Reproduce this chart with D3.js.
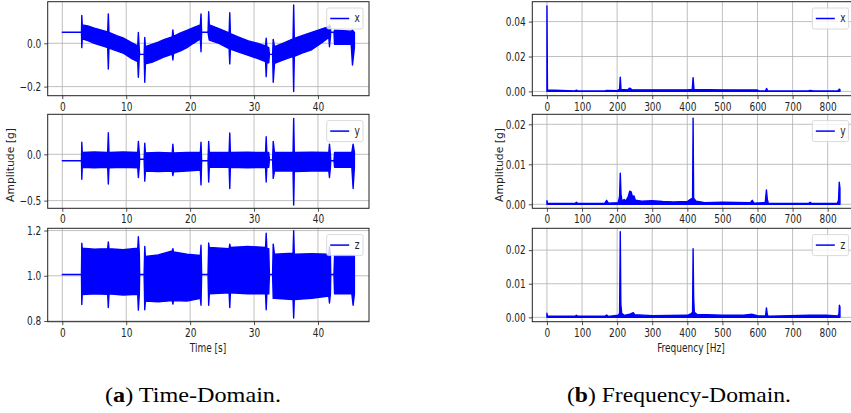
<!DOCTYPE html>
<html lang="en">
<head>
<meta charset="UTF-8">
<title>Time and frequency domain</title>
<style>
    body { margin: 0; background: #fff; }
    svg { display: block; }
    .tick text, .lab { font-family: "DejaVu Sans Condensed", "DejaVu Sans", sans-serif; font-size: 10px; fill: #222; }
    .cap { font-family: "Liberation Serif", "Times New Roman", serif; font-size: 21px; fill: #000; }
</style>
</head>
<body>
<svg width="851" height="413"></svg>
<script src="https://d3js.org/d3.v7.min.js"></script>
<script>
    // time signals: [t, low envelope, high envelope]
    const sigX = [
        [0, 0.051, 0.051], [3.0, 0.051, 0.051], [3.05, -0.02, 0.128], [3.12, 0.02, 0.085],
        [4, 0.012, 0.08], [5, 0.0, 0.07], [6, -0.01, 0.062], [7.1, -0.02, 0.052], [7.2, -0.119, 0.136], [7.3, -0.022, 0.05],
        [8.5, -0.035, 0.035], [9.5, -0.045, 0.025], [10.7, -0.068, 0.005], [11.8, -0.085, -0.012], [11.9, -0.157, 0.05], [12.05, -0.06, -0.03],
        [12.1, -0.051, -0.051], [12.8, -0.051, -0.051], [12.9, -0.18, 0.027], [13.0, -0.095, -0.016],
        [14, -0.088, -0.005], [15, -0.075, 0.005], [16, -0.062, 0.018], [17.2, -0.05, 0.03], [17.3, -0.077, 0.062], [17.4, -0.048, 0.032],
        [18.5, -0.035, 0.048], [19.5, -0.02, 0.06], [20.5, 0.0, 0.072], [21.6, 0.02, 0.085], [21.7, -0.039, 0.136],
        [21.8, 0.051, 0.051], [22.8, 0.051, 0.051], [22.9, 0.03, 0.146], [23.0, 0.015, 0.085],
        [24.5, 0.0, 0.068], [26.1, -0.025, 0.048], [26.2, -0.095, 0.141], [26.3, -0.027, 0.045],
        [27.5, -0.04, 0.03], [29, -0.055, 0.012], [30.5, -0.07, 0.0], [31.8, -0.085, -0.012], [31.9, -0.154, 0.023], [32.0, -0.09, -0.016], [32.3, -0.09, -0.02],
        [32.4, -0.051, -0.051], [32.9, -0.051, -0.051], [33.0, -0.18, 0.018], [33.2, -0.093, -0.016],
        [34.5, -0.078, 0.0], [36.1, -0.06, 0.02], [36.2, -0.223, 0.177], [36.3, -0.06, 0.022],
        [37.5, -0.045, 0.035], [39, -0.03, 0.05], [40.5, 0.0, 0.065], [41.7, 0.027, 0.077], [41.8, -0.016, 0.085], [41.95, 0.03, 0.075],
        [42.0, 0.051, 0.051], [42.5, 0.051, 0.051], [42.6, -0.005, 0.06], [44, -0.003, 0.058], [45.2, -0.005, 0.056], [45.4, -0.1, 0.06], [45.7, -0.02, 0.05]
    ];
    const sigY = [
        [0, -0.069, -0.069], [3.0, -0.069, -0.069], [3.05, -0.27, 0.13], [3.12, -0.14, 0.02],
        [5, -0.145, 0.025], [7.1, -0.14, 0.02], [7.2, -0.32, 0.233], [7.3, -0.145, 0.02],
        [9.5, -0.14, 0.025], [11.8, -0.145, 0.02], [11.9, -0.25, 0.14], [12.05, -0.13, 0.01],
        [12.1, -0.054, -0.054], [12.8, -0.054, -0.054], [12.9, -0.29, 0.12], [13.0, -0.18, 0.016],
        [15, -0.185, 0.02], [17.2, -0.18, 0.015], [17.3, -0.23, 0.11], [17.4, -0.19, 0.015],
        [19.5, -0.18, 0.02], [21.6, -0.17, 0.02], [21.7, -0.33, 0.13],
        [21.8, -0.069, -0.069], [22.8, -0.069, -0.069], [22.9, -0.30, 0.14], [23.0, -0.14, 0.02],
        [26.1, -0.14, 0.02], [26.2, -0.37, 0.23], [26.3, -0.14, 0.02], [29, -0.145, 0.022],
        [31.8, -0.14, 0.02], [31.9, -0.30, 0.19], [32.0, -0.14, 0.02], [32.3, -0.14, 0.02],
        [32.4, -0.06, -0.06], [32.9, -0.06, -0.06], [33.0, -0.26, 0.14], [33.2, -0.18, 0.02],
        [36.1, -0.18, 0.02], [36.2, -0.547, 0.388], [36.3, -0.185, 0.02], [39, -0.18, 0.022],
        [41.7, -0.18, 0.02], [41.8, -0.25, 0.11], [41.95, -0.14, 0.0],
        [42.0, -0.069, -0.069], [42.5, -0.069, -0.069], [42.6, -0.14, 0.02], [45.3, -0.14, 0.02], [45.5, -0.37, 0.11], [45.7, -0.14, 0.02]
    ];
    const sigZ = [
        [0, 1.006, 1.006], [3.0, 1.006, 1.006], [3.05, 0.873, 1.144], [3.12, 0.917, 1.122],
        [5, 0.92, 1.118], [7.1, 0.918, 1.12], [7.2, 0.86, 1.15], [7.3, 0.92, 1.12],
        [9.5, 0.915, 1.115], [11.8, 0.918, 1.122], [11.9, 0.848, 1.173], [12.05, 0.92, 1.1],
        [12.1, 1.006, 1.006], [12.8, 1.006, 1.006], [12.9, 0.85, 1.13], [13.0, 0.888, 1.085],
        [15, 0.885, 1.092], [17.2, 0.89, 1.11], [17.3, 0.875, 1.12], [17.4, 0.89, 1.105],
        [19.5, 0.888, 1.095], [21.6, 0.9, 1.09], [21.7, 0.87, 1.135],
        [21.8, 1.006, 1.006], [22.8, 1.006, 1.006], [22.9, 0.87, 1.145], [23.0, 0.92, 1.125],
        [26.1, 0.925, 1.12], [26.2, 0.86, 1.14], [26.3, 0.925, 1.125], [29, 0.92, 1.13],
        [31.8, 0.92, 1.125], [31.9, 0.85, 1.188], [32.0, 0.92, 1.12], [32.3, 0.92, 1.12],
        [32.4, 1.006, 1.006], [32.9, 1.006, 1.006], [33.0, 0.9, 1.14], [33.2, 0.9, 1.095],
        [36.1, 0.895, 1.1], [36.2, 0.813, 1.199], [36.3, 0.895, 1.095], [39, 0.9, 1.098],
        [41.7, 0.91, 1.095], [41.8, 0.88, 1.13], [41.95, 0.92, 1.09],
        [42.0, 1.006, 1.006], [42.5, 1.006, 1.006], [42.6, 0.92, 1.09], [45.3, 0.92, 1.09], [45.5, 0.87, 1.09], [45.7, 0.92, 1.09]
    ];

    // spectra: [frequency, amplitude]
    const specX = [
        [0, 0.049], [1.5, 0.0008], [80, 0.0003], [84, 0.0007], [88, 0.0003], [165, 0.0003], [170, 0.0006],
        [200, 0.0004], [207, 0.0012], [209, 0.0082], [211, 0.0012], [230, 0.0009], [236, 0.0019], [242, 0.001],
        [300, 0.0009], [400, 0.0009], [414, 0.0011], [416.5, 0.0079], [419, 0.0011], [500, 0.0009], [600, 0.0008],
        [605, 0.0002], [623, 0.0003], [626, 0.0017], [629, 0.0003], [745, 0.0003], [750, 0.0006], [760, 0.0003],
        [829, 0.0003], [833, 0.0013], [835, 0.001]
    ];
    const specY = [
        [0, 0.0009], [1.5, 0.0003], [80, 0.0002], [84, 0.0005], [88, 0.0002], [165, 0.0003], [170, 0.001], [175, 0.0003],
        [203, 0.0004], [207, 0.002], [209, 0.0078], [211, 0.0025], [214, 0.0008], [220, 0.0012], [225, 0.0008],
        [232, 0.002], [236, 0.0033], [240, 0.0031], [244, 0.0018], [248, 0.0021], [252, 0.001], [270, 0.0008],
        [300, 0.0009], [330, 0.0007], [360, 0.0006], [400, 0.0007], [410, 0.0013], [415, 0.0015], [416.5, 0.0215],
        [418, 0.0015], [425, 0.0008], [450, 0.0004], [500, 0.0005], [580, 0.0004], [585, 0.001], [590, 0.0003],
        [622, 0.0004], [625.5, 0.0036], [628, 0.0012], [631, 0.0002], [745, 0.0002], [750, 0.0005], [755, 0.0002],
        [828, 0.0003], [831, 0.001], [833, 0.0055], [835, 0.004]
    ];
    const specZ = [
        [0, 0.0012], [1.5, 0.0003], [80, 0.0003], [84, 0.0006], [88, 0.0003], [165, 0.0003], [170, 0.0007], [175, 0.0003],
        [203, 0.0006], [207, 0.0012], [209, 0.0255], [210.5, 0.004], [213, 0.0012], [220, 0.0006], [236, 0.0009],
        [240, 0.0011], [246, 0.0014], [250, 0.0008], [300, 0.0005], [400, 0.0006], [410, 0.001], [415, 0.0015],
        [416.5, 0.0204], [418, 0.006], [420, 0.0015], [428, 0.0008], [455, 0.0008], [500, 0.0006], [560, 0.0006],
        [585, 0.0009], [600, 0.0005], [623, 0.0004], [625.5, 0.0028], [628, 0.0008], [631, 0.0003], [750, 0.0006],
        [795, 0.0006], [829, 0.0004], [832, 0.001], [833.5, 0.0036], [835, 0.003]
    ];

    const timeTicks = [0, 10, 20, 30, 40];
    const freqTicks = [0, 100, 200, 300, 400, 500, 600, 700, 800];
    const seriesNames = ["x", "y", "z"];

    const svg = d3.select("svg");
    const blue = "#0000ff";
    const rows = [[1.7, 95.7], [114.3, 208.3], [228.3, 321.7]];
    const sy = 1.2; // the figure is a bit taller than wide, text too

    const left = [
        {data: sigX, yd: [-0.242, 0.192], yt: [-0.2, 0.0], fmt: d3.format(".1f")},
        {data: sigY, yd: [-0.583, 0.432], yt: [-0.5, 0.0], fmt: d3.format(".1f")},
        {data: sigZ, yd: [0.797, 1.21], yt: [0.8, 1.0, 1.2], fmt: d3.format(".1f")}
    ];
    const right = [
        {data: specX, yd: [-0.00245, 0.0514], yt: [0, 0.02, 0.04], fmt: d3.format(".2f")},
        {data: specY, yd: [-0.001, 0.0225], yt: [0, 0.01, 0.02], fmt: d3.format(".2f")},
        {data: specZ, yd: [-0.0013, 0.0265], yt: [0, 0.01, 0.02], fmt: d3.format(".2f")}
    ];

    function stretch(sel) {
        sel.each(function () {
            const t = d3.select(this);
            const x = +t.attr("x") || 0, y = +t.attr("y") || 0;
            t.attr("x", 0).attr("y", 0).attr("transform", `translate(${x},${y}) scale(1,${sy})`);
        });
    }

    function panel(x0, x1, row, xd, xt, cfg, name, kind, id) {
        const x = d3.scaleLinear().domain(xd).range([x0, x1]);
        const y = d3.scaleLinear().domain(cfg.yd).range([row[1], row[0]]);
        const g = svg.append("g");

        g.append("clipPath").attr("id", "c" + id).append("rect")
            .attr("x", x0).attr("y", row[0]).attr("width", x1 - x0).attr("height", row[1] - row[0]);

        // grid
        g.append("g").selectAll("line").data(xt).join("line")
            .attr("x1", d => x(d)).attr("x2", d => x(d)).attr("y1", row[0]).attr("y2", row[1])
            .attr("stroke", "#b0b0b0").attr("stroke-width", 0.8);
        g.append("g").selectAll("line").data(cfg.yt).join("line")
            .attr("x1", x0).attr("x2", x1).attr("y1", d => y(d)).attr("y2", d => y(d))
            .attr("stroke", "#b0b0b0").attr("stroke-width", 0.8);

        const plot = g.append("g").attr("clip-path", "url(#c" + id + ")");
        let area;
        if (kind === "time") {
            area = d3.area().x(d => x(d[0])).y0(d => y(d[1])).y1(d => y(d[2]));
        } else {
            area = d3.area().x(d => x(d[0])).y0(y(0)).y1(d => y(d[1]));
        }
        plot.append("path").datum(cfg.data).attr("d", area)
            .attr("fill", blue).attr("stroke", blue).attr("stroke-width", 1.4).attr("stroke-linejoin", "round");

        // axes
        const ax = g.append("g").attr("transform", `translate(0,${row[1]})`)
            .call(d3.axisBottom(x).tickValues(xt).tickSize(3.5).tickPadding(3).tickFormat(d3.format("d")));
        const ay = g.append("g").attr("transform", `translate(${x0},0)`)
            .call(d3.axisLeft(y).tickValues(cfg.yt).tickSize(3.5).tickPadding(3)
                .tickFormat(d => cfg.fmt(d).replace("-", "\u2212")));
        [ax, ay].forEach(a => {
            a.select(".domain").remove();
            a.selectAll(".tick line").attr("stroke", "#222").attr("stroke-width", 0.8);
            a.selectAll(".tick text").attr("font-family", null).attr("font-size", null);
            stretch(a.selectAll(".tick text"));
        });

        g.append("rect").attr("x", x0).attr("y", row[0]).attr("width", x1 - x0).attr("height", row[1] - row[0])
            .attr("fill", "none").attr("stroke", "#222").attr("stroke-width", 1);

        // legend
        const lg = g.append("g").attr("transform", `translate(${x1 - 42.3},${row[0] + 6.3})`);
        lg.append("rect").attr("width", 36.3).attr("height", 21).attr("rx", 2)
            .attr("fill", "#fff").attr("fill-opacity", 0.8).attr("stroke", "#d0d0d0").attr("stroke-width", 0.8);
        lg.append("line").attr("x1", 3.5).attr("x2", 22.5).attr("y1", 10.5).attr("y2", 10.5)
            .attr("stroke", blue).attr("stroke-width", 1.5);
        lg.append("text").attr("class", "lab").attr("x", 30.5).attr("y", 14).attr("text-anchor", "middle").text(name)
            .call(stretch);
    }

    for (let i = 0; i < 3; i++) {
        panel(47.7, 369, rows[i], [-2.285, 47.985], timeTicks, left[i], seriesNames[i], "time", "l" + i);
        panel(532.3, 854.6, rows[i], [-41.75, 876.75], freqTicks, right[i], seriesNames[i], "freq", "r" + i);
    }

    svg.append("text").attr("class", "lab").attr("text-anchor", "middle")
        .attr("transform", `translate(208,352) scale(1,${sy})`).text("Time [s]");
    svg.append("text").attr("class", "lab").attr("text-anchor", "middle")
        .attr("transform", `translate(691,352) scale(1,${sy})`).text("Frequency [Hz]");
    svg.append("text").attr("class", "lab").attr("text-anchor", "middle")
        .attr("transform", `translate(14,165) scale(1,${sy}) rotate(-90)`).text("Amplitude [g]");
    svg.append("text").attr("class", "lab").attr("text-anchor", "middle")
        .attr("transform", `translate(503,165) scale(1,${sy}) rotate(-90)`).text("Amplitude [g]");

    function caption(x0, w, letter, rest) {
        const c = svg.append("text").attr("class", "cap").attr("x", x0).attr("y", 402)
            .attr("textLength", w).attr("lengthAdjust", "spacingAndGlyphs");
        c.append("tspan").text("(");
        c.append("tspan").attr("font-weight", "bold").text(letter);
        c.append("tspan").text(rest);
    }
    caption(105, 176, "a", ") Time-Domain.");
    caption(567, 224, "b", ") Frequency-Domain.");
</script>
</body>
</html>
